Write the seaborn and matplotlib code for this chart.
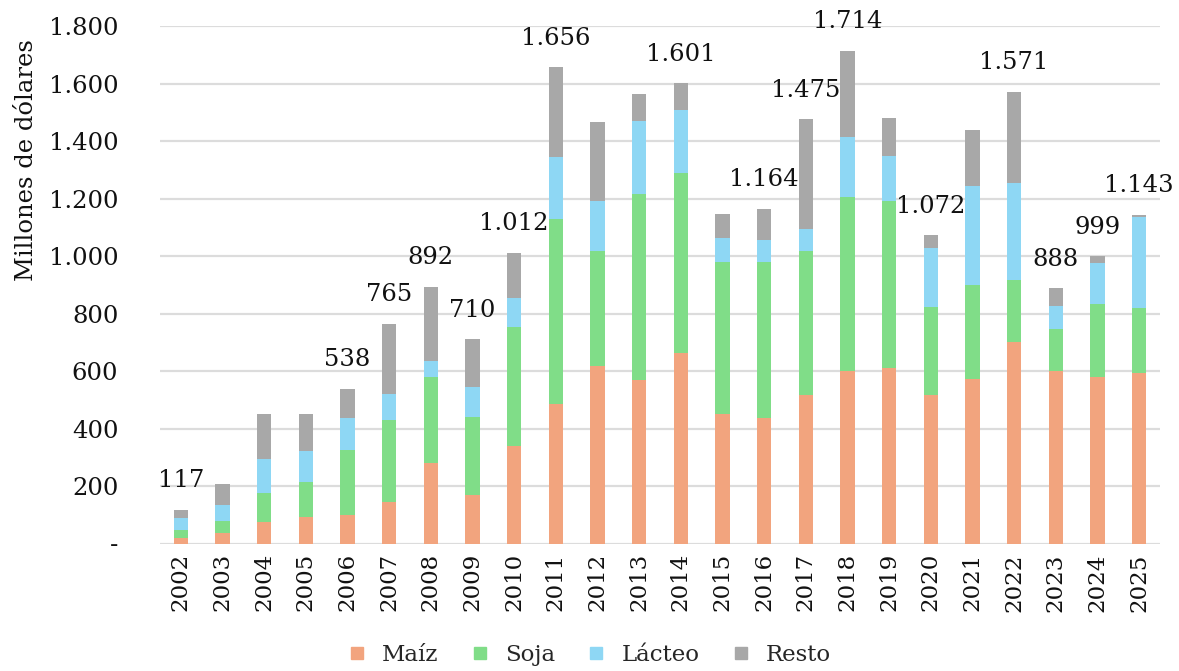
import numpy as np
import pandas as pd
import matplotlib
matplotlib.use("Agg")
import matplotlib.pyplot as plt
from matplotlib.lines import Line2D
import seaborn as sns

years = list(range(2002, 2026))
maiz = [18, 35, 76, 91, 99, 145, 279, 169, 339, 484, 617, 569, 664, 449, 435, 517, 600, 609, 517, 572, 701, 600, 580, 594]
soja = [29, 44, 99, 124, 226, 285, 299, 272, 413, 644, 401, 646, 624, 531, 545, 501, 606, 583, 307, 327, 216, 146, 253, 225]
lacteo = [41, 55, 119, 107, 110, 89, 57, 104, 101, 215, 174, 256, 220, 84, 76, 75, 207, 156, 203, 344, 338, 80, 142, 316]
resto = [29, 73, 155, 127, 103, 246, 257, 165, 159, 313, 273, 91, 93, 81, 108, 382, 301, 133, 45, 195, 316, 62, 24, 8]
labeled_years = [2002, 2006, 2007, 2008, 2009, 2010, 2011, 2014, 2016, 2017, 2018, 2020, 2022, 2023, 2024, 2025]

names = ["Maíz", "Soja", "Lácteo", "Resto"]
colors = ["#F2A47E", "#80DD88", "#8ED7F4", "#A8A8A8"]

df = pd.DataFrame({"year": [str(y) for y in years], "Maíz": maiz, "Soja": soja,
                   "Lácteo": lacteo, "Resto": resto})
cum = df[names].cumsum(axis=1)
df["total"] = cum["Resto"]

sns.set_theme(style="white")
plt.rcParams["font.family"] = ["DejaVu Serif"]
txt = "#111111"

fig = plt.figure(figsize=(11.79, 6.71), dpi=100)
ax = fig.add_axes([160 / 1179, 1 - 543.5 / 671, 1000 / 1179, 517.5 / 671])

# stacked bars: draw cumulative sums from back to front
for name, col in reversed(list(zip(names, colors))):
    sns.barplot(x=df["year"], y=cum[name], color=col, width=0.34, ax=ax,
                saturation=1, zorder=3, linewidth=0)

ax.set_ylim(0, 1800)
ax.set_xlim(-0.5, len(years) - 0.5)
ticks = np.arange(0, 1801, 200)
ax.set_yticks(ticks)
ax.set_yticklabels(["-" if t == 0 else f"{t:,}".replace(",", ".") for t in ticks])
ax.yaxis.grid(True, color="#dcdcdc", linewidth=1.6, zorder=0)
ax.xaxis.grid(False)
for s in ax.spines.values():
    s.set_visible(False)
ax.tick_params(axis="y", length=0, pad=30, labelsize=17.5, colors=txt)
ax.tick_params(axis="x", length=0, pad=7, labelsize=16.5, colors=txt, labelrotation=90)
ax.set_xlabel("")
ax.set_ylabel("Millones de dólares", fontsize=17.5, color=txt)
ax.yaxis.set_label_coords(-0.122, 0.74)

for i, y in enumerate(years):
    if y in labeled_years:
        tot = df["total"].iloc[i]
        ax.annotate(f"{tot:,}".replace(",", "."), (i, tot), xytext=(0, 21),
                    textcoords="offset points", ha="center", va="center",
                    fontsize=17.5, color=txt, annotation_clip=False)

handles = [Line2D([], [], marker="s", linestyle="none", markersize=9,
                  markerfacecolor=c, markeredgecolor=c) for c in colors]
fig.legend(handles, names, loc="center", bbox_to_anchor=(0.494, 0.024), ncol=4,
           frameon=False, fontsize=16.5, handletextpad=0.1, columnspacing=0.8)

fig.savefig("out.png", dpi=100)
